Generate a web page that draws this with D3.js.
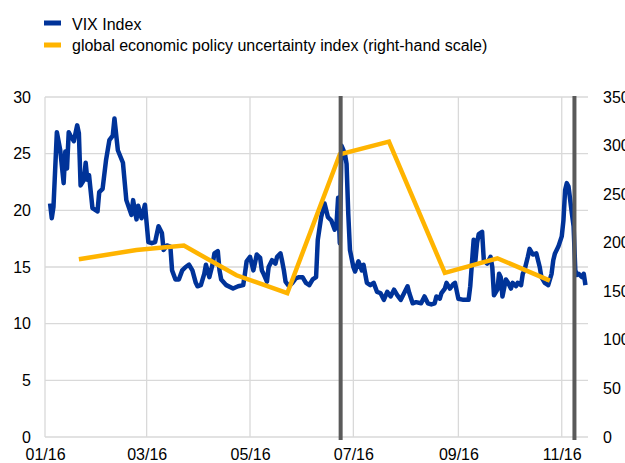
<!DOCTYPE html>
<html><head><meta charset="utf-8">
<script src="https://cdn.jsdelivr.net/npm/d3@7"></script>
<style>body{margin:0;background:#fff}svg{display:block;font-family:"Liberation Sans",Arial,sans-serif}</style>
</head><body><svg id="c" width="625" height="463"></svg>
<script>
const vixDates = ["2016-01-04","2016-01-05","2016-01-06","2016-01-08","2016-01-10","2016-01-12","2016-01-13","2016-01-14","2016-01-15","2016-01-16","2016-01-18","2016-01-20","2016-01-21","2016-01-22","2016-01-24","2016-01-25","2016-01-26","2016-01-27","2016-01-29","2016-02-01","2016-02-02","2016-02-04","2016-02-06","2016-02-08","2016-02-10","2016-02-11","2016-02-13","2016-02-16","2016-02-18","2016-02-21","2016-02-22","2016-02-24","2016-02-25","2016-02-27","2016-02-29","2016-03-02","2016-03-04","2016-03-06","2016-03-08","2016-03-10","2016-03-11","2016-03-13","2016-03-15","2016-03-16","2016-03-18","2016-03-20","2016-03-22","2016-03-24","2016-03-26","2016-03-28","2016-03-30","2016-03-31","2016-04-02","2016-04-04","2016-04-05","2016-04-07","2016-04-09","2016-04-10","2016-04-12","2016-04-13","2016-04-14","2016-04-17","2016-04-21","2016-04-24","2016-04-27","2016-04-28","2016-04-29","2016-05-01","2016-05-03","2016-05-05","2016-05-07","2016-05-08","2016-05-09","2016-05-11","2016-05-12","2016-05-14","2016-05-16","2016-05-17","2016-05-19","2016-05-20","2016-05-21","2016-05-22","2016-05-24","2016-05-26","2016-05-28","2016-05-30","2016-06-01","2016-06-03","2016-06-05","2016-06-07","2016-06-09","2016-06-10","2016-06-12","2016-06-14","2016-06-16","2016-06-18","2016-06-20","2016-06-21","2016-06-22","2016-06-23","2016-06-24","2016-06-26","2016-06-27","2016-06-28","2016-06-29","2016-07-01","2016-07-02","2016-07-04","2016-07-06","2016-07-07","2016-07-09","2016-07-11","2016-07-13","2016-07-15","2016-07-17","2016-07-19","2016-07-21","2016-07-23","2016-07-25","2016-07-27","2016-07-29","2016-07-31","2016-08-02","2016-08-03","2016-08-05","2016-08-07","2016-08-10","2016-08-12","2016-08-14","2016-08-16","2016-08-18","2016-08-19","2016-08-21","2016-08-22","2016-08-24","2016-08-25","2016-08-27","2016-08-29","2016-08-30","2016-09-01","2016-09-04","2016-09-07","2016-09-08","2016-09-10","2016-09-11","2016-09-12","2016-09-13","2016-09-15","2016-09-16","2016-09-18","2016-09-20","2016-09-21","2016-09-22","2016-09-24","2016-09-25","2016-09-26","2016-09-27","2016-09-29","2016-09-30","2016-10-02","2016-10-03","2016-10-05","2016-10-06","2016-10-08","2016-10-09","2016-10-10","2016-10-12","2016-10-13","2016-10-15","2016-10-17","2016-10-19","2016-10-20","2016-10-22","2016-10-24","2016-10-26","2016-10-27","2016-10-28","2016-10-30","2016-11-01","2016-11-02","2016-11-03","2016-11-04","2016-11-05","2016-11-06","2016-11-07","2016-11-08","2016-11-09","2016-11-10","2016-11-11","2016-11-13","2016-11-14","2016-11-15"];
const vixValues = [20.6,19.3,20.3,26.9,25.3,22.4,25.2,23.7,26.9,26.6,26.1,27.5,26.8,22.2,22.7,24.2,22.7,23.1,20.2,19.9,21.6,21.9,24.4,26.2,26.6,28.1,25.3,24.2,20.9,19.6,20.9,19.2,20.4,19.3,20.5,17.2,17.1,17.2,18.6,18.0,16.5,16.9,16.8,14.7,13.9,13.9,14.7,15.0,15.2,14.7,13.6,13.3,13.4,14.4,15.2,14.1,15.3,16.2,16.4,14.7,13.9,13.4,13.1,13.3,13.4,14.4,15.5,15.9,14.7,16.1,15.8,14.7,14.4,13.7,15.0,15.6,15.3,15.9,16.2,15.5,14.7,13.7,13.3,13.6,14.0,14.1,14.1,13.6,13.4,13.9,14.1,17.4,19.4,20.6,19.4,19.1,18.3,18.6,21.1,17.1,25.7,25.0,24.1,19.7,16.5,15.0,14.6,15.5,14.7,15.2,13.6,13.4,13.6,12.8,12.7,12.1,12.8,12.4,13.0,12.5,12.1,12.7,13.3,12.7,11.8,11.9,11.8,12.4,11.8,11.7,11.8,12.4,12.2,12.7,13.1,13.6,13.1,13.5,13.6,12.2,12.1,12.1,13.3,17.4,15.5,17.1,17.9,18.1,15.6,15.3,15.9,15.0,12.5,13.0,14.4,14.1,12.4,13.9,13.7,13.1,13.6,13.3,13.6,13.4,14.4,14.7,15.9,16.6,16.1,16.2,15.0,14.1,13.6,13.4,14.4,15.6,16.2,16.8,17.7,19.1,21.8,22.4,22.1,20.9,19.7,18.6,14.7,14.3,14.4,14.1,14.4,13.4];
const epuDates = ["2016-01-21","2016-02-24","2016-03-23","2016-04-23","2016-05-23","2016-06-23","2016-07-22","2016-08-24","2016-09-24","2016-10-25"];
const epuValues = [183,192.5,197,166.5,148,291,304,169,184,161];
const eventDates = ["2016-06-23","2016-11-08"];
const xTickDates = ["2016-01-01","2016-03-01","2016-05-01","2016-07-01","2016-09-01","2016-11-01"];
const leftTicks = [0,5,10,15,20,25,30];
const rightTicks = [0,50,100,150,200,250,300,350];
const seriesNames = ["VIX Index","global economic policy uncertainty index (right-hand scale)"];
const seriesColors = ["#003399","#FFB400"];

const parse = d3.timeParse("%Y-%m-%d");
const svg = d3.select("#c");
const L = 45, R = 588, T = 97, B = 437;
const x = d3.scaleTime().domain([parse("2016-01-01"), new Date(2016,10,16,12)]).range([L,R]);
const yL = d3.scaleLinear().domain([0,30]).range([B,T]);
const yR = d3.scaleLinear().domain([0,350]).range([B,T]);
const grid = "#d9d9d9";

// horizontal grid
svg.append("g").selectAll("line").data(leftTicks).join("line")
  .attr("x1",L).attr("x2",R).attr("y1",d=>yL(d)).attr("y2",d=>yL(d))
  .attr("stroke",grid).attr("stroke-width",1.3);
// vertical grid
svg.append("g").selectAll("line").data(xTickDates.map(parse)).join("line")
  .attr("x1",d=>x(d)).attr("x2",d=>x(d)).attr("y1",T).attr("y2",B)
  .attr("stroke",grid).attr("stroke-width",1.3);

// axes (text only)
const axL = svg.append("g").attr("transform",`translate(${L-14},0)`)
  .call(d3.axisLeft(yL).tickValues(leftTicks).tickSize(0).tickPadding(0));
const axR = svg.append("g").attr("transform",`translate(${R+15},0)`)
  .call(d3.axisRight(yR).tickValues(rightTicks).tickSize(0).tickPadding(0));
const axB = svg.append("g").attr("transform",`translate(0,${B+12})`)
  .call(d3.axisBottom(x).tickValues(xTickDates.map(parse)).tickFormat(d3.timeFormat("%m/%y")).tickSize(0).tickPadding(0));
[axL,axR,axB].forEach(a=>{a.select(".domain").remove();
  a.selectAll("text").attr("font-size",16).attr("fill","#000").attr("font-family",'"Liberation Sans",Arial,sans-serif');});
axB.selectAll("text").attr("dy","0.71em");

const vix = vixDates.map((d,i)=>({d:parse(d),v:vixValues[i]}));
const epu = epuDates.map((d,i)=>({d:parse(d),v:epuValues[i]}));

svg.append("path").datum(vix)
  .attr("d",d3.line().x(p=>x(p.d)).y(p=>yL(p.v)))
  .attr("fill","none").attr("stroke",seriesColors[0]).attr("stroke-width",4.5).attr("stroke-linejoin","round");
svg.append("path").datum(epu)
  .attr("d",d3.line().x(p=>x(p.d)).y(p=>yR(p.v)))
  .attr("fill","none").attr("stroke",seriesColors[1]).attr("stroke-width",4.5).attr("stroke-linejoin","miter");

// event lines
svg.append("g").selectAll("line").data(eventDates.map(d=>d3.timeHour.offset(parse(d),12))).join("line")
  .attr("x1",d=>x(d)).attr("x2",d=>x(d)).attr("y1",T-1).attr("y2",B+3)
  .attr("stroke","#5a5a5a").attr("stroke-width",4);

// legend
const lg = svg.append("g");
seriesNames.forEach((n,i)=>{
  lg.append("rect").attr("x",44).attr("y",20.5+i*22).attr("width",17).attr("height",5).attr("fill",seriesColors[i]);
  lg.append("text").attr("x",72).attr("y",29.5+i*21.5).attr("font-size",16).attr("fill","#000").text(n);
});
</script></body></html>
